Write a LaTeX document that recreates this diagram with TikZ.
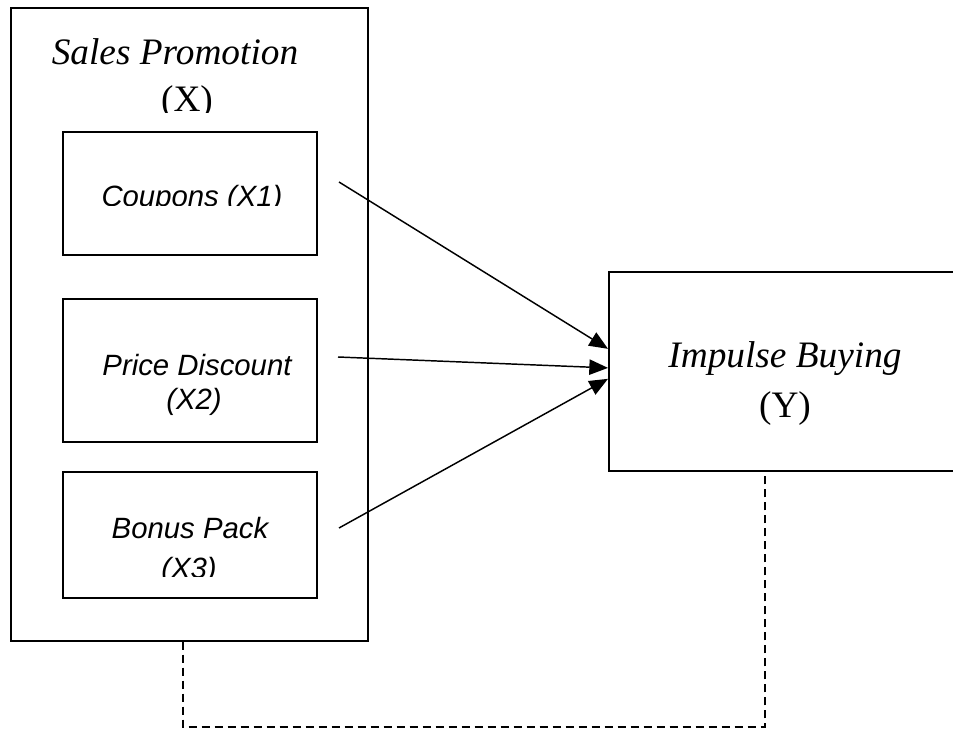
\documentclass[tikz,border=0pt]{standalone}
\usepackage{fontspec}
\setmainfont{Liberation Serif}
\newfontfamily\arialfont{Liberation Sans}
\usetikzlibrary{arrows.meta}

\tikzset{
  frame/.style={draw, line width=1.3pt, inner sep=0pt, anchor=north west},
  serif/.style={anchor=base, inner sep=0pt, font=\fontsize{28}{32}\selectfont},
  sans/.style={anchor=base, inner sep=0pt, font=\arialfont\itshape\fontsize{22}{26}\selectfont},
  arr/.style={line width=1.1pt, -{Triangle[length=14pt,width=11.5pt]}},
  link/.style={line width=1.1pt, dash pattern=on 6pt off 3.75pt}
}

\begin{document}
\begin{tikzpicture}[x=0.75pt, y=-0.75pt]
		%\draw[help lines] (0,0) grid (953,731);
		\useasboundingbox (0,0) rectangle (953,731);
		
		\node[frame, minimum width=267.75pt, minimum height=474.75pt] (promo) at (10,7) {};
		\node[frame, minimum width=190.5pt, minimum height=92.25pt] (coupon) at (62,131) {};
		\node[frame, minimum width=190.5pt, minimum height=107.25pt] (discount) at (62,298) {};
		\node[frame, minimum width=190.5pt, minimum height=94.5pt] (bonus) at (62,471) {};
		\node[frame, minimum width=279pt, minimum height=149.25pt] (impulse) at (608,271) {};
		
		\node[serif] (promotxt) at (175,65) {\textit{Sales Promotion}};
		\begin{scope}
		\clip (0,0) rectangle (953,113);
		\node[serif] (xtxt) at (187,112) {(X)};
		\end{scope}
		
		\begin{scope}
		\clip (0,0) rectangle (953,206);
		\node[sans] (coupontxt) at (192,206) {Coupons (X1)};
		\end{scope}
		\node[sans] (discounttxt) at (197,375) {Price Discount};
		\node[sans] (xtwotxt) at (194,409) {(X2)};
		\node[sans] (bonustxt) at (190,538) {Bonus Pack};
		\begin{scope}
		\clip (0,0) rectangle (953,576);
		\node[sans] (xthreetxt) at (189,578) {(X3)};
		\end{scope}
		
		\node[serif] (impulsetxt) at (785,367) {\textit{Impulse Buying}};
		\node[serif] (ytxt) at (785,417) {(Y)};
		
		\coordinate (s1) at (339,182);
		\coordinate (s2) at (338,357);
		\coordinate (s3) at (339,528);
		\draw[arr] (s1) -- ([yshift=16.9pt]impulse.west);
		\draw[arr] (s2) -- ([yshift=2.6pt]impulse.west);
		\draw[arr] (s3) -- ([yshift=-5.6pt]impulse.west);
		
		\coordinate (dl) at (183,727);
		\coordinate (dr) at (765,727);
		\draw[link] (promo.south -| dl) -- (dl) -- (dr) -- (dr |- impulse.south);
\end{tikzpicture}
\end{document}
